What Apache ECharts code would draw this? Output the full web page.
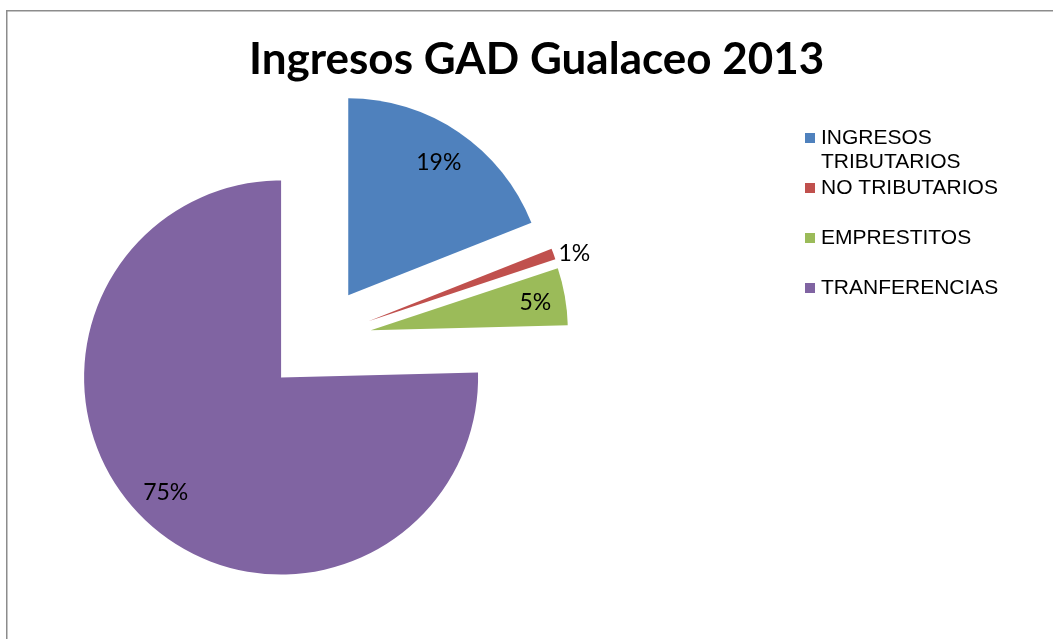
<!DOCTYPE html>
<html>
<head>
<meta charset="utf-8">
<script src="https://cdn.jsdelivr.net/npm/echarts@6/dist/echarts.min.js"></script>
<style>
html,body{margin:0;padding:0;background:#fff;}
#c{width:1053px;height:639px;}
</style>
</head>
<body>
<div id="c"></div>
<script>
const titleText = 'Ingresos GAD Gualaceo 2013';
const categories = ['INGRESOS TRIBUTARIOS', 'NO TRIBUTARIOS', 'EMPRESTITOS', 'TRANFERENCIAS'];
const values = [19.0, 0.9, 4.7, 75.4];
const colors = ['#4F81BD', '#C0504D', '#9BBB59', '#8064A2'];
const insideLabel = [true, false, true, true];
// small nudges of the inside labels (Excel "best fit" placement)
const labelPads = [[10, 0, 0, 0], [0, 0, 0, 0], [0, 0, 2, 12], [0, 6, 6, 0]];

const chart = echarts.init(document.getElementById('c'), null, {renderer: 'canvas'});

const pieCenter = [318.3, 339.4];
const pieRadius = 197;
const explode = 53.3;
const labelFont = {fontFamily: 'Lato', fontSize: 23, color: '#000'};
const pctFormatter = p => Math.round(p.percent) + '%';

const mainData = categories.map((n, i) => ({
  name: n, value: values[i], selected: true,
  itemStyle: {color: colors[i]},
  label: insideLabel[i] ? {show: false} : {show: true, position: 'outside', formatter: pctFormatter, ...labelFont},
  labelLine: {show: false, length: 0, length2: 0}
}));
const overlayData = categories.map((n, i) => ({
  name: n, value: values[i], selected: true,
  itemStyle: {color: 'rgba(0,0,0,0)'},
  label: insideLabel[i] ? {show: true, position: 'inside', formatter: pctFormatter, padding: labelPads[i], ...labelFont} : {show: false}
}));

const legendTops = [102, 176, 226, 276];
const legends = categories.map((n, i) => ({
  data: [n],
  orient: 'vertical',
  left: 805,
  top: legendTops[i],
  padding: 0,
  icon: 'rect',
  itemWidth: 10,
  itemHeight: 10,
  itemGap: 0,
  selectedMode: false,
  formatter: i === 0 ? (name => '\n' + name) : (name => name),
  textStyle: {
    fontFamily: 'Liberation Sans', fontSize: 21, lineHeight: 24, color: '#000',
    width: 190, overflow: 'break',
    padding: [0, 0, 0, 1]
  }
}));

chart.setOption({
  animation: false,
  backgroundColor: '#fff',
  title: {
    text: titleText,
    left: 249,
    top: 38,
    padding: 0,
    textStyle: {fontFamily: 'Lato', fontWeight: 'bold', fontSize: 44, color: '#000'}
  },
  legend: legends,
  graphic: [{
    type: 'rect', silent: true, z: -1,
    shape: {x: 6.75, y: 10.75, width: 1200, height: 800},
    style: {fill: 'none', stroke: '#8c8c8c', lineWidth: 1.5}
  }],
  series: [
    {
      type: 'pie', name: 'main',
      center: pieCenter, radius: pieRadius,
      startAngle: 90, clockwise: true,
      selectedMode: 'multiple', selectedOffset: explode,
      avoidLabelOverlap: false,
      emphasis: {disabled: true},
      labelLine: {show: false, length: 0, length2: 0},
      label: {distanceToLabelLine: 5},
      data: mainData
    },
    {
      type: 'pie', name: 'labels', silent: true,
      center: pieCenter, radius: 316,
      startAngle: 90, clockwise: true,
      selectedMode: 'multiple', selectedOffset: explode,
      avoidLabelOverlap: false,
      emphasis: {disabled: true},
      labelLine: {show: false},
      z: 3,
      data: overlayData
    }
  ]
});
</script>
</body>
</html>
